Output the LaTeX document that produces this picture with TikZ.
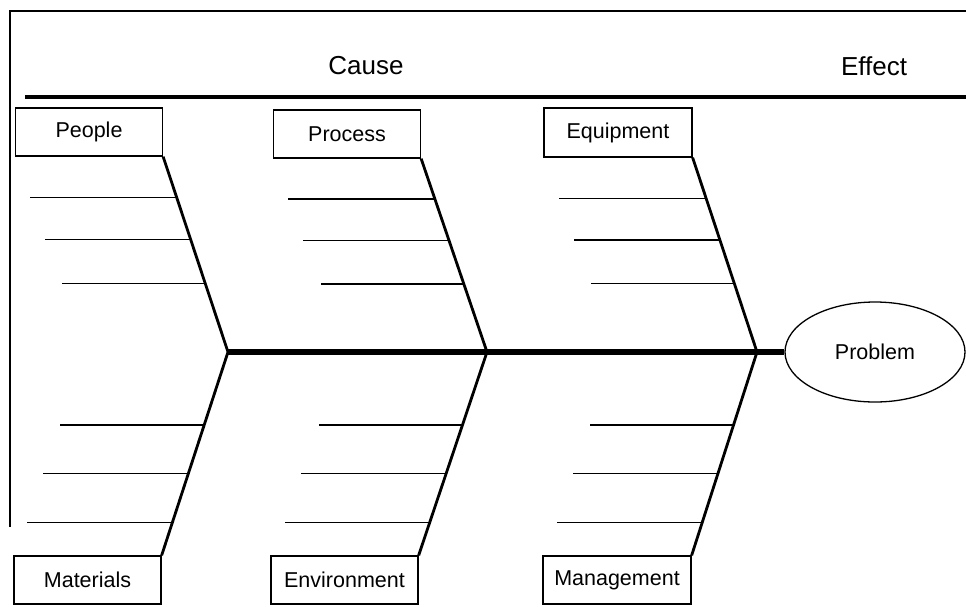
\documentclass[tikz,border=0pt]{standalone}
\usepackage{fontspec}
\setmainfont{Liberation Sans}
\usetikzlibrary{calc,shapes.geometric}

\tikzset{
  catbox/.style={draw, line width=1.3pt, minimum width=147pt, minimum height=48pt,
                 inner sep=0pt, font=\fontsize{21.5}{25}\selectfont},
  heading/.style={font=\fontsize{26}{30}\selectfont, inner sep=0pt},
  bone/.style={line width=2.8pt, line join=round},
  spine/.style={line width=6pt},
  rib/.style={line width=1.4pt},
  frame/.style={line width=1.6pt},
  rule/.style={line width=3.5pt},
  effect/.style={draw, ellipse, line width=1.3pt, minimum width=180pt, minimum height=100pt,
                 inner sep=0pt, font=\fontsize{21.5}{25}\selectfont}
}

\begin{document}
\begin{tikzpicture}[x=1pt, y=-1pt]
  \useasboundingbox (0,0) rectangle (966,606);

  % outer frame (top and left edges)
  \coordinate (fTL) at (10,11);
  \coordinate (fTR) at (966,11);
  \coordinate (fBL) at (10,527);
  \draw[frame] (fTR) -- (fTL) -- (fBL);

  % headings and rule
  \node[heading] (cause) at (366,66) {Cause};
  \node[heading] (effectlbl) at (874,66) {Effect};
  \coordinate (rL) at (25,97);
  \coordinate (rR) at (966,97);
  \draw[rule] (rL) -- (rR);

  % category boxes
  \node[catbox] (people)  at (89,132)     {People};
  \node[catbox] (process) at (347,134)    {Process};
  \node[catbox, minimum width=148pt, minimum height=49pt] (equip) at (618,132.5) {Equipment};
  \node[catbox] (mat)     at (87.5,580)   {Materials};
  \node[catbox] (env)     at (344.5,580)  {Environment};
  \node[catbox, minimum width=148pt] (mgmt) at (617,580) {Management};

  % effect
  \node[effect] (prob) at (875,352) {Problem};

  % joints on the backbone
  \coordinate (j1) at (228,352);
  \coordinate (j2) at (487,352);
  \coordinate (j3) at (757,352);

  % backbone
  \draw[spine] (j1) -- (prob.west);

  % main bones
  \draw[bone] (people.south east) -- (j1) -- (mat.north east);
  \draw[bone] (process.south east) -- (j2) -- (env.north east);
  \draw[bone] (equip.south east) -- (j3) -- (mgmt.north east);

  % sub-cause ribs
  \foreach \bn/\j in {people/j1, process/j2, equip/j3}{
    \draw[rib] ($(\bn.south east)!0.209!(\j)$) -- ++(-147,0);
    \draw[rib] ($(\bn.south east)!0.424!(\j)$) -- ++(-146,0);
    \draw[rib] ($(\bn.south east)!0.648!(\j)$) -- ++(-143,0);
  }
  \foreach \bn/\j in {mat/j1, env/j2, mgmt/j3}{
    \draw[rib] ($(\j)!0.358!(\bn.north east)$) -- ++(-144,0);
    \draw[rib] ($(\j)!0.598!(\bn.north east)$) -- ++(-145,0);
    \draw[rib] ($(\j)!0.838!(\bn.north east)$) -- ++(-145,0);
  }
\end{tikzpicture}
\end{document}
